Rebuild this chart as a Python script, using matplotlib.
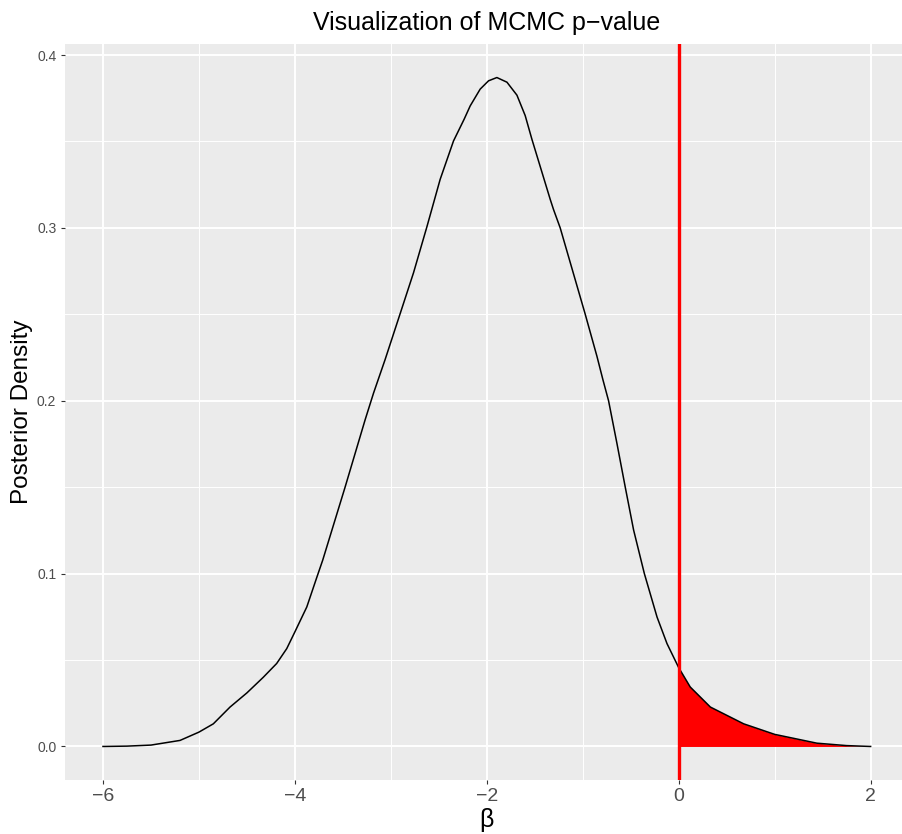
import numpy as np
import matplotlib
matplotlib.use("Agg")
import matplotlib.pyplot as plt

plt.rcParams['font.family'] = ['Liberation Sans', 'DejaVu Sans']

# Posterior density curve
beta = [-6.0, -5.75, -5.5, -5.197, -5.0, -4.85, -4.676, -4.5, -4.33, -4.19,
        -4.085, -4.0, -3.876, -3.77, -3.71, -3.477, -3.268, -3.18, -3.06,
        -2.903, -2.764, -2.625, -2.486, -2.347, -2.236, -2.173, -2.069,
        -1.982, -1.895, -1.79, -1.686, -1.6, -1.53, -1.339, -1.305, -1.235,
        -0.974, -0.852, -0.79, -0.731, -0.644, -0.557, -0.47, -0.358, -0.226,
        -0.122, 0.0, 0.12, 0.33, 0.677, 1.0, 1.44, 1.75, 2.0]
density = [0.0000, 0.0002, 0.0008, 0.0035, 0.0083, 0.0131, 0.0228, 0.0310,
           0.0400, 0.0480, 0.0566, 0.0663, 0.0807, 0.0981, 0.1078, 0.1500,
           0.1890, 0.2045, 0.2238, 0.2504, 0.2740, 0.3005, 0.3281, 0.3503,
           0.3629, 0.3706, 0.3803, 0.3851, 0.3870, 0.3843, 0.3768, 0.3650,
           0.3513, 0.3165, 0.3107, 0.3000, 0.2500, 0.2257, 0.2122, 0.2000,
           0.1754, 0.1500, 0.1252, 0.1000, 0.0749, 0.0595, 0.0456, 0.0344,
           0.0228, 0.0131, 0.0070, 0.0019, 0.0005, 0.0000]
cutoff = 0.0

x_ticks = [-6, -4, -2, 0, 2]
y_ticks = [0.0, 0.1, 0.2, 0.3, 0.4]

beta = np.array(beta)
density = np.array(density)

W, H = 902, 834
fig = plt.figure(figsize=(W / 100, H / 100), dpi=100)
left, right, top, bottom = 64.6, 909, 44, 780
ax = fig.add_axes([left / W, 1 - bottom / H, (right - left) / W, (bottom - top) / H])

ax.set_facecolor('#EBEBEB')
for s in ax.spines.values():
    s.set_visible(False)

ax.set_xlim(-6.4, 2.4)
ax.set_ylim(-0.0194, 0.4064)
ax.set_xticks(x_ticks)
ax.set_yticks(y_ticks)
ax.set_yticklabels(['%.1f' % v for v in y_ticks])
ax.set_xticks([-5, -3, -1, 1], minor=True)
ax.set_yticks([0.05, 0.15, 0.25, 0.35], minor=True)
ax.grid(True, which='major', color='white', linewidth=1.4)
ax.grid(True, which='minor', color='white', linewidth=0.7)
ax.set_axisbelow(True)
ax.tick_params(which='minor', length=0)
ax.tick_params(which='major', length=3, width=0.8, color='#333333')
ax.tick_params(axis='x', labelsize=14, labelcolor='#4D4D4D', pad=3)
ax.tick_params(axis='y', labelsize=10, labelcolor='#4D4D4D', pad=3)

# shaded tail beyond the cutoff
mask = beta >= cutoff
ax.fill_between(beta[mask], 0, density[mask], color='red', linewidth=0, zorder=2)
ax.plot(beta, density, color='black', linewidth=1.1, zorder=3,
        solid_joinstyle='round')
ax.axvline(cutoff, color='red', linewidth=2.4, zorder=4)

ax.set_title('Visualization of MCMC p\u2212value', fontsize=18, pad=10)
ax.set_xlabel('\u03b2', fontsize=18, labelpad=2)
ax.set_ylabel('Posterior Density', fontsize=17.5, labelpad=3)

fig.savefig('out.png', dpi=100)
